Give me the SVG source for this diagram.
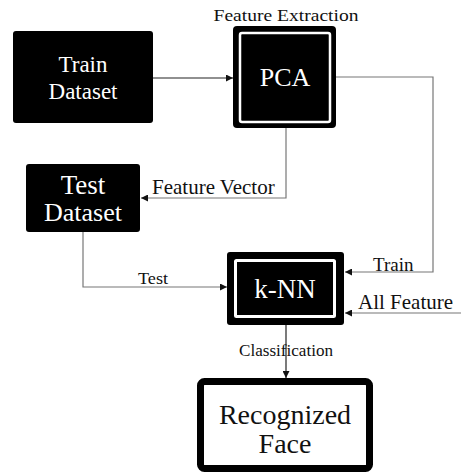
<svg xmlns="http://www.w3.org/2000/svg" width="461" height="475" viewBox="0 0 461 475">
<style>
text{font-family:'Liberation Serif','Times New Roman',serif;}
.w{fill:#fff;text-anchor:middle;}
.b{fill:#111;}
.c{fill:none;stroke:#777;stroke-width:1.2;}
</style>
<defs>
<marker id="ah" viewBox="0 0 10 10" refX="10" refY="5" markerWidth="8" markerHeight="7" markerUnits="userSpaceOnUse" orient="auto">
<path d="M0,0 L10,5 L0,10 z" fill="#111"/>
</marker>
</defs>
<rect width="461" height="475" fill="#fff"/>
<g id="connectors">
<path class="c" style="stroke:#222" d="M153 78 H233" marker-end="url(#ah)"/>
<path class="c" d="M286 128 V198 H141" marker-end="url(#ah)"/>
<path class="c" d="M336 77 H433 V272 H345" marker-end="url(#ah)"/>
<path class="c" d="M83 232 V287 H227" marker-end="url(#ah)"/>
<path class="c" d="M461 313 H345" marker-end="url(#ah)"/>
<path class="c" style="stroke:#222" d="M286 325 V378" marker-end="url(#ah)"/>
</g>
<g id="train-dataset">
<rect x="13" y="31" width="140" height="92" rx="3" fill="#000"/>
<text class="w" x="83" y="72" font-size="23" font-family="Liberation Serif, serif">Train</text>
<text class="w" x="83" y="99" font-size="23" font-family="Liberation Serif, serif">Dataset</text>
</g>
<g id="pca">
<text class="b" x="286" y="21" font-size="17" font-family="Liberation Serif, serif" text-anchor="middle" textLength="145" lengthAdjust="spacingAndGlyphs">Feature Extraction</text>
<rect x="233" y="26" width="103" height="102" rx="4" fill="#000"/>
<rect x="240" y="33" width="90" height="89" rx="2" fill="#000" stroke="#fff" stroke-width="2.5"/>
<text class="w" x="285" y="86" font-size="26" font-family="Liberation Serif, serif">PCA</text>
</g>
<g id="test-dataset">
<rect x="26" y="164" width="114" height="68" rx="3" fill="#000"/>
<text class="w" x="83" y="194" font-size="27" font-family="Liberation Serif, serif">Test</text>
<text class="w" x="83" y="221" font-size="26" font-family="Liberation Serif, serif">Dataset</text>
</g>
<g id="knn">
<rect x="227" y="252" width="117" height="73" rx="3" fill="#000"/>
<rect x="235.5" y="260.5" width="99" height="56" rx="1" fill="#000" stroke="#fff" stroke-width="3"/>
<text class="w" x="285" y="298" font-size="27" font-family="Liberation Serif, serif">k-NN</text>
</g>
<g id="recognized-face">
<rect x="200.5" y="381.5" width="169" height="87" rx="4" fill="#fff" stroke="#000" stroke-width="7"/>
<text x="285" y="424" font-size="28" font-family="Liberation Serif, serif" text-anchor="middle" fill="#111">Recognized</text>
<text x="285" y="453" font-size="28" font-family="Liberation Serif, serif" text-anchor="middle" fill="#111">Face</text>
</g>
<g id="labels">
<text class="b" x="152" y="194" font-size="21" font-family="Liberation Serif, serif">Feature Vector</text>
<text class="b" x="373" y="271" font-size="19" font-family="Liberation Serif, serif">Train</text>
<text class="b" x="358" y="309" font-size="21" font-family="Liberation Serif, serif">All Feature</text>
<text class="b" x="138" y="284" font-size="16" font-family="Liberation Serif, serif" textLength="30" lengthAdjust="spacingAndGlyphs">Test</text>
<text class="b" x="286" y="356" font-size="16" font-family="Liberation Serif, serif" text-anchor="middle" textLength="94" lengthAdjust="spacingAndGlyphs">Classification</text>
</g>
</svg>
